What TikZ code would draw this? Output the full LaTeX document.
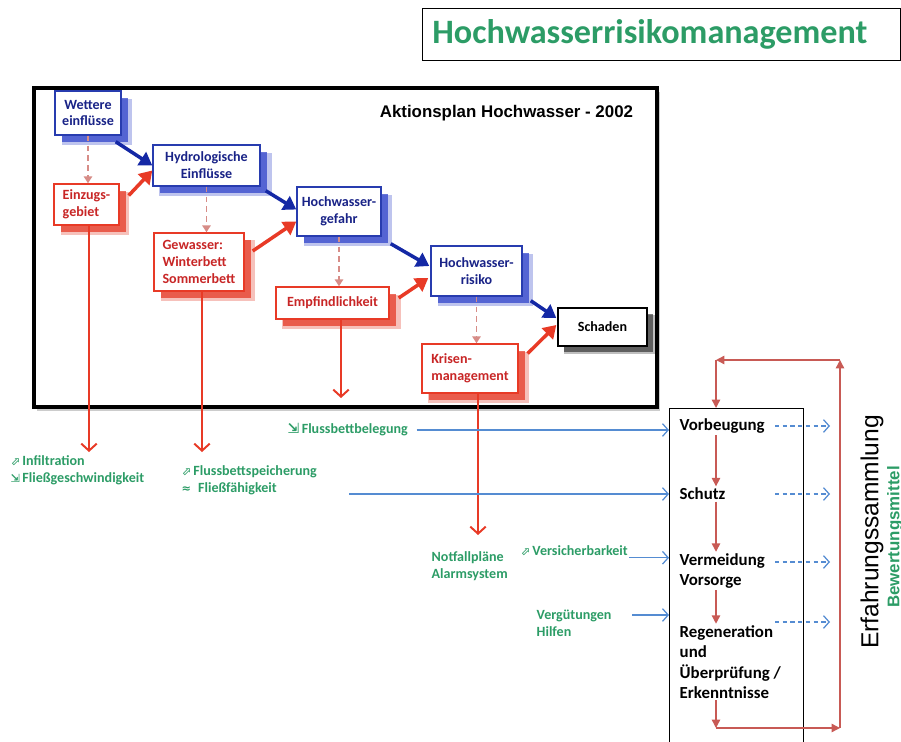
\documentclass[tikz,border=0pt]{standalone}
\usepackage{fontspec}
\setmainfont{Carlito}
\newfontfamily\arialfont{Liberation Sans}
\newfontfamily\symfont{DejaVu Sans}
\usepackage{tikz}
\usetikzlibrary{positioning,arrows.meta,shadows,calc}
\definecolor{bluecol}  {RGB}{40,60,175}
\definecolor{bluetext} {RGB}{25,35,135}
\definecolor{blueshade}{RGB}{40,60,200}
\definecolor{bluearr}  {RGB}{20,40,165}
\definecolor{redcol}   {RGB}{232,58,38}
\definecolor{redtext}  {RGB}{200,38,38}
\definecolor{redshade} {RGB}{228,50,30}
\definecolor{dashcol}  {RGB}{215,140,135}
\definecolor{greencol} {RGB}{44,156,102}
\definecolor{lightblue}{RGB}{85,140,210}
\definecolor{loopred}  {RGB}{200,90,85}

\begin{document}
\begin{tikzpicture}[x=0.025cm,y=-0.025cm,
  planbox/.style={rectangle,draw=black,fill=white,line width=2.8pt,
               drop shadow={shadow xshift=2pt,shadow yshift=-3pt,fill=gray,opacity=.4}},
  bbox/.style={rectangle,draw=bluecol,fill=white,line width=1pt,text=bluetext,
               font=\fontsize{10}{12}\selectfont\bfseries,align=center,inner sep=2pt,
               general shadow={shadow xshift=6pt,shadow yshift=-6pt,shadow scale=1.05,
                 fill=blueshade,opacity=.3},
               general shadow={shadow xshift=5pt,shadow yshift=-5pt,
                 fill=blueshade,opacity=.7}},
  rbox/.style={rectangle,draw=redcol,fill=white,line width=1pt,text=redtext,
               font=\fontsize{10}{12}\selectfont\bfseries,align=left,inner sep=2pt,
               general shadow={shadow xshift=6pt,shadow yshift=-6pt,shadow scale=1.05,
                 fill=redshade,opacity=.3},
               general shadow={shadow xshift=5pt,shadow yshift=-5pt,
                 fill=redshade,opacity=.7}},
  kbox/.style={rectangle,draw=black,fill=white,line width=1pt,
               font=\fontsize{10}{12}\selectfont\bfseries,align=center,inner sep=2pt,
               general shadow={shadow xshift=5pt,shadow yshift=-5pt,shadow scale=1.04,
                 fill=black,opacity=.25},
               general shadow={shadow xshift=4pt,shadow yshift=-4pt,
                 fill=black,opacity=.5}},
  barr/.style={-{Triangle[length=9pt,width=11pt]},line width=2.5pt,bluearr},
  rarr/.style={-{Triangle[length=9pt,width=11pt]},line width=2.5pt,redcol},
  darr/.style={-{Triangle[length=5pt,width=6pt]},line width=1.3pt,dashcol,
               dash pattern=on 4pt off 3pt},
  varr/.style={-{Straight Barb[length=5pt,width=11pt]},line width=1.4pt,redcol},
  larr/.style={-{Straight Barb[length=4pt,width=9pt]},line width=0.9pt,lightblue},
  ldarr/.style={-{Straight Barb[length=4pt,width=9pt]},line width=0.9pt,lightblue,
               dash pattern=on 3pt off 2.5pt},
  looparr/.style={-{Triangle[length=6pt,width=6pt]},line width=1pt,loopred},
  glab/.style={font=\fontsize{10}{12}\selectfont\bfseries,text=greencol,
               align=left,inner sep=1pt},
  mlab/.style={font=\fontsize{12}{14.5}\selectfont\bfseries,align=left,inner sep=1pt},
  >=Stealth
]
\useasboundingbox (0,0) rectangle (901,742);
\clip (0,0) rectangle (901,742);
% title
\node[draw=black,line width=0.6pt,font=\fontsize{24.3}{28}\selectfont\bfseries,
  text=greencol,minimum height=1.3cm,text width=11.45cm,inner xsep=0.25cm,
  inner ysep=2pt,align=left,anchor=north west] (titel) at (422,8)
  {Hochwasserrisikomanagement};
% Aktionsplan frame
\node[planbox,minimum width=15.575cm,minimum height=7.975cm,anchor=north west]
  (plan) at (32,86) {};
\node[font=\arialfont\bfseries\fontsize{12}{14}\selectfont,anchor=east] (aktion)
  at (638,113) {Aktionsplan Hochwasser - 2002};
\node[bbox,minimum width=1.65cm,minimum height=1.1cm] (wett) at (88,113)
  {Wettere\\einflüsse};
\node[rbox,minimum width=1.625cm,minimum height=1.025cm] (ein) at (86.5,204.5)
  {Einzugs-\\gebiet};
\node[bbox,minimum width=2.675cm,minimum height=1.025cm] (hydro) at (206.5,165.5)
  {Hydrologische\\Einflüsse};
\node[rbox,minimum width=2.25cm,minimum height=1.45cm] (gew) at (199,262)
  {Gewasser:\\Winterbett\\Sommerbett};
\node[bbox,minimum width=2.1cm,minimum height=1.225cm] (gef) at (339,211.5)
  {Hochwasser-\\gefahr};
\node[rbox,minimum width=2.825cm,minimum height=0.8cm] (empf) at (332.5,303)
  {Empfindlichkeit};
\node[bbox,minimum width=2.275cm,minimum height=1.25cm] (risk) at (476.5,271)
  {Hochwasser-\\risiko};
\node[kbox,minimum width=2.225cm,minimum height=0.95cm] (schad) at (602.5,327)
  {Schaden};
\node[rbox,minimum width=2.4cm,minimum height=1.225cm] (kris) at (470,368.5)
  {Krisen-\\management};
\draw[darr] (wett.south)--(wett.south |- ein.north);
\draw[darr] (hydro.south)--(hydro.south |- gew.north);
\draw[darr] (gef.south)--(gef.south |- empf.north);
\draw[darr] (risk.south)--(risk.south |- kris.north);
\draw[barr] ([shift={(-6,6)}]wett.south east)--(hydro.west);
\draw[rarr] ([shift={(9,-9)}]ein.east)--([shift={(0,5)}]hydro.west);
\draw[barr] ([shift={(5,4)}]hydro.south east)--([shift={(0,-2)}]gef.west);
\draw[rarr] ([shift={(8,-11)}]gew.east)--([shift={(0,10)}]gef.west);
\draw[barr] ([shift={(9,7)}]gef.south east)--([shift={(-1,-5)}]risk.west);
\draw[rarr] ([shift={(9,-5)}]empf.east)--([shift={(-2,7)}]risk.west);
\draw[barr] ([shift={(8,4)}]risk.south east)--([shift={(-1,-9)}]schad.west);
\draw[rarr] ([shift={(9,-15)}]kris.east)--([shift={(-1,-2)}]schad.west);
% effects below the plan
\coordinate (e1) at (89,452);
\coordinate (e2) at (202,452);
\coordinate (e3) at (341,398);
\coordinate (e4) at (478,535);
\draw[varr] (e1 |- ein.south)--(e1);
\draw[varr] (e2 |- gew.south)--(e2);
\draw[varr] (e3 |- empf.south)--(e3);
\draw[varr] (e4 |- kris.south)--(e4);
\node[glab,anchor=west] (infil) at (9,470.5)
  {{\symfont\footnotesize ⬀}\,Infiltration\\{\symfont\footnotesize ⇲}\,Fließgeschwindigkeit};
\node[glab,anchor=west] (speich) at (180,480)
  {{\symfont\footnotesize ⬀}\,Flussbettspeicherung\\{\symfont\footnotesize ≈}\enspace Fließfähigkeit};
\node[glab,anchor=west] (beleg) at (286,430) {{\symfont\normalsize ⇲}\,Flussbettbelegung};
\node[glab,anchor=west] (notf) at (430,566) {Notfallpläne\\Alarmsystem};
\node[glab,anchor=west] (vers) at (519,551) {{\symfont\footnotesize ⬀}\,Versicherbarkeit};
\node[glab,anchor=west] (verg) at (535,623) {Vergütungen\\Hilfen};
% measures
\node[draw=black,line width=0.8pt,minimum width=3.35cm,minimum height=8.75cm,
  anchor=north west] (massn) at (669,408) {};
\node[mlab,anchor=west] (vorb) at (678,426) {Vorbeugung};
\node[mlab,anchor=west] (schutz) at (678,494) {Schutz};
\node[mlab,anchor=west] (verm) at (678,571) {Vermeidung\\Vorsorge};
\node[mlab,anchor=west] (regen) at (678,662)
  {Regeneration\\und\\Überprüfung /\\Erkenntnisse};
\coordinate (fs) at (349,494);
\coordinate (vg) at (632,615);
\draw[larr] ([xshift=5pt]beleg.east)--(beleg.east -| massn.west);
\draw[larr] (fs)--(fs -| massn.west);
\draw[larr] (vers.south east)--(vers.south east -| massn.west);
\draw[larr] (vg)--(vg -| massn.west);
\coordinate (lp1) at (716,728);
\coordinate (lp2) at (840,728);
\coordinate (lp3) at (840,360);
\coordinate (lp4) at (716,360);
\draw[looparr] (vorb.south -| lp1)--(schutz.north -| lp1);
\draw[looparr] (schutz.south -| lp1)--(verm.north -| lp1);
\draw[looparr] (verm.south -| lp1)--(regen.north -| lp1);
\draw[looparr] (regen.south -| lp1)--(lp1);
\draw[looparr] (lp1)--(lp2);
\draw[looparr] (lp2)--(lp3);
\draw[looparr] (lp3)--(lp4);
\draw[looparr] (lp4)--(massn.north -| lp4);
\coordinate (d1) at (775,426);
\coordinate (d2) at (775,494);
\coordinate (d3) at (775,562);
\coordinate (d4) at (775,622);
\coordinate (de) at (830,0);
\foreach \d in {d1,d2,d3,d4}
  \draw[ldarr] (\d)--(\d -| de);
\node[rotate=90,font=\arialfont\fontsize{17.5}{20}\selectfont] (erfahr) at (872,532)
  {Erfahrungssammlung};
\node[rotate=90,font=\arialfont\bfseries\fontsize{12}{14}\selectfont,text=greencol]
  (bewert) at (895,537) {Bewertungsmittel};
\end{tikzpicture}
\end{document}
